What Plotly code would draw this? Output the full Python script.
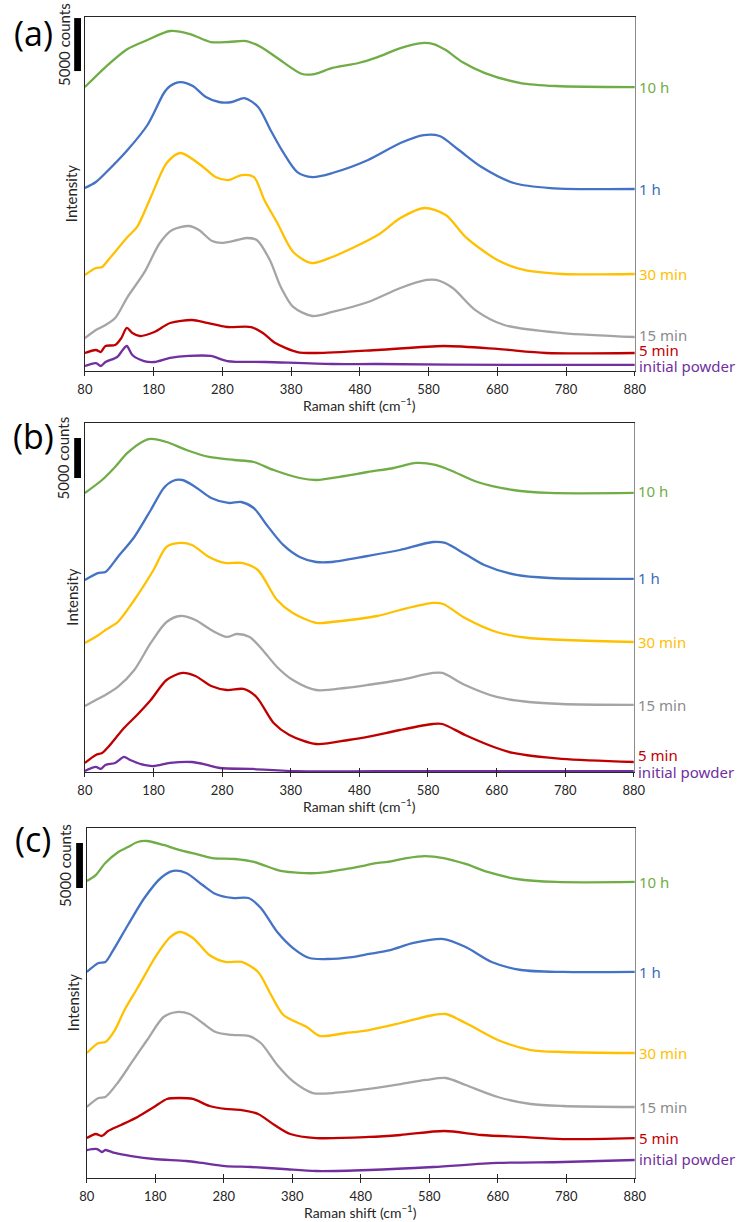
import plotly.graph_objects as go

# ---------------- Panel (a) data (Raman shift in cm-1, stacked intensity in counts) ----------------
A_10H_X = [80, 110, 142, 171, 204, 233, 263, 289, 315, 336, 360, 396, 414, 440, 478, 506, 539, 570, 587, 605, 629, 662, 714, 765, 880]
A_10H_Y = [26790, 28680, 30380, 31230, 32080, 31790, 31040, 31040, 31130, 30570, 29530, 28020, 28020, 28590, 29060, 29620, 30470, 30940, 30850, 30280, 29150, 28110, 27170, 26890, 26790]

A_1H_X = [80, 96, 110, 142, 171, 195, 204, 219, 237, 256, 275, 294, 312, 332, 350, 369, 389, 411, 440, 492, 539, 573, 596, 624, 657, 704, 757, 880]
A_1H_Y = [17260, 17830, 18680, 20850, 23210, 26230, 26890, 27260, 26890, 25850, 25380, 25380, 25750, 24910, 22740, 20570, 18770, 18300, 18680, 19910, 21510, 22260, 22170, 20850, 19250, 17740, 17260, 17170]

A_30M_X = [80, 96, 105, 114, 142, 156, 176, 199, 219, 252, 270, 289, 308, 326, 341, 360, 383, 410, 440, 506, 539, 574, 605, 634, 680, 719, 775, 880]
A_30M_Y = [9060, 9720, 9810, 10470, 12640, 13590, 16420, 19620, 20570, 19250, 18300, 18020, 18490, 18300, 16130, 13960, 11230, 10190, 10760, 12830, 14430, 15380, 14720, 12640, 10470, 9530, 9150, 9150]

A_15M_X = [80, 96, 110, 124, 142, 166, 189, 207, 231, 246, 265, 279, 302, 316, 330, 349, 365, 383, 411, 440, 492, 539, 577, 591, 615, 648, 690, 775, 880]
A_15M_Y = [3110, 3870, 4340, 5000, 6980, 9250, 12080, 13300, 13680, 13300, 12260, 12080, 12360, 12550, 12360, 10470, 7920, 6040, 5190, 5570, 6510, 7830, 8590, 8590, 7830, 5750, 4340, 3580, 3210]

A_5M_X = [80, 96, 103, 110, 124, 133, 141, 149, 160, 181, 204, 236, 258, 287, 322, 339, 357, 389, 417, 506, 602, 680, 751, 880]
A_5M_Y = [1700, 1980, 1790, 2360, 2450, 3110, 4060, 3580, 3300, 3680, 4530, 4810, 4530, 4150, 4150, 3580, 2640, 1790, 1700, 1980, 2360, 2080, 1700, 1700]

A_INIT_X = [80, 96, 103, 110, 127, 135, 141, 149, 166, 181, 204, 231, 263, 287, 343, 440, 506, 700, 880]
A_INIT_Y = [470, 750, 470, 850, 1320, 1980, 2360, 1510, 940, 850, 1230, 1420, 1420, 940, 850, 660, 660, 570, 570]

# ---------------- Panel (b) data ----------------
B_10H_X = [80, 105, 124, 142, 166, 176, 199, 228, 261, 298, 326, 355, 393, 417, 459, 492, 530, 563, 591, 615, 652, 704, 757, 880]
B_10H_Y = [34880, 36500, 38130, 39880, 41380, 41630, 41250, 40250, 39380, 39000, 38750, 37750, 36750, 36500, 37000, 37500, 38000, 38630, 38380, 37630, 36250, 35250, 34880, 34880]

B_1H_X = [80, 100, 110, 128, 152, 176, 195, 208, 222, 241, 264, 289, 308, 326, 345, 369, 393, 417, 440, 492, 539, 587, 605, 634, 662, 709, 757, 880]
B_1H_Y = [24000, 24880, 25000, 26880, 29380, 32750, 35500, 36380, 36500, 35630, 34250, 33630, 33750, 33000, 30880, 28380, 26880, 26250, 26250, 27000, 27750, 28750, 28630, 27250, 25880, 24630, 24250, 24130]

B_30M_X = [80, 100, 110, 128, 152, 180, 199, 219, 236, 261, 284, 308, 332, 360, 383, 417, 440, 506, 539, 587, 602, 634, 680, 727, 880]
B_30M_Y = [16130, 17130, 17750, 18750, 21500, 25250, 28130, 28630, 28380, 26880, 26130, 26130, 25250, 21500, 19880, 18630, 18750, 19500, 20250, 21130, 21000, 19250, 17500, 16750, 16250]

B_15M_X = [80, 96, 110, 128, 152, 176, 199, 219, 241, 264, 287, 301, 320, 339, 360, 383, 417, 459, 492, 539, 587, 601, 634, 680, 727, 775, 880]
B_15M_Y = [8250, 9000, 9630, 10630, 12750, 16130, 18750, 19500, 19000, 17750, 16880, 17250, 16880, 15250, 13130, 11500, 10250, 10500, 10880, 11500, 12380, 12380, 10880, 9380, 8750, 8500, 8380]

B_5M_X = [80, 96, 105, 114, 137, 156, 176, 199, 222, 241, 264, 287, 311, 330, 355, 378, 417, 464, 492, 539, 587, 601, 634, 680, 704, 775, 880]
B_5M_Y = [1130, 2130, 2380, 3130, 5500, 7130, 9000, 11500, 12380, 12000, 10750, 10250, 10380, 9380, 6130, 4630, 3500, 4000, 4380, 5250, 6000, 6000, 4630, 3000, 2380, 1630, 1250]

B_INIT_X = [80, 96, 103, 110, 124, 137, 146, 166, 181, 204, 236, 258, 277, 324, 389, 506, 880]
B_INIT_Y = [130, 630, 380, 880, 1130, 1880, 1500, 880, 750, 1130, 1250, 880, 500, 380, 100, 100, 100]

# ---------------- Panel (c) data ----------------
C_10H_X = [80, 93, 107, 126, 140, 154, 168, 192, 211, 239, 263, 296, 324, 363, 391, 420, 467, 505, 519, 547, 573, 601, 633, 665, 708, 765, 880]
C_10H_Y = [33000, 33660, 35000, 36220, 36770, 37330, 37440, 37000, 36550, 36000, 35550, 35440, 35110, 34110, 33890, 33890, 34440, 35000, 35110, 35550, 35770, 35550, 34890, 34000, 33220, 32890, 32890]

C_1H_X = [80, 97, 107, 117, 140, 164, 188, 206, 225, 249, 268, 292, 316, 334, 358, 381, 405, 430, 467, 492, 523, 557, 601, 633, 671, 714, 775, 880]
C_1H_Y = [22890, 23890, 24000, 25110, 28110, 31110, 33330, 34110, 33890, 32550, 31550, 31110, 31110, 30000, 27330, 25550, 24440, 24330, 24550, 24890, 25330, 26110, 26550, 25660, 24000, 23110, 22890, 22890]

C_30M_X = [80, 97, 107, 121, 135, 154, 182, 202, 216, 235, 259, 282, 306, 330, 349, 367, 401, 420, 458, 492, 538, 586, 604, 633, 680, 728, 775, 880]
C_30M_Y = [13890, 15000, 15110, 16440, 18670, 21110, 24780, 26780, 27330, 26660, 24780, 24000, 24000, 22890, 20330, 18110, 16780, 15780, 16110, 16440, 17220, 18110, 18220, 17220, 15330, 14220, 14000, 13890]

C_15M_X = [80, 97, 107, 126, 145, 168, 192, 211, 230, 249, 268, 292, 316, 334, 358, 382, 410, 439, 492, 538, 575, 604, 633, 680, 728, 775, 880]
C_15M_Y = [7890, 8890, 9000, 10670, 12780, 15330, 17890, 18440, 18220, 17220, 16220, 15890, 15780, 15000, 12550, 10670, 9440, 9440, 9890, 10440, 10890, 11110, 10330, 9000, 8220, 8000, 7890]

C_5M_X = [80, 93, 102, 111, 130, 154, 178, 197, 216, 235, 259, 282, 306, 330, 354, 377, 415, 492, 538, 602, 656, 714, 775, 880]
C_5M_Y = [4440, 4890, 4670, 5220, 5890, 6780, 7890, 8780, 8890, 8780, 8000, 7670, 7550, 7110, 5890, 4890, 4440, 4560, 4780, 5220, 4780, 4560, 4330, 4440]

C_INIT_X = [80, 95, 102, 107, 121, 145, 178, 225, 249, 282, 320, 367, 415, 492, 586, 680, 775, 880]
C_INIT_Y = [3110, 3220, 2890, 3110, 2780, 2440, 2110, 1890, 1670, 1330, 1220, 1000, 780, 890, 1220, 1670, 1780, 2000]

SERIES_NAMES = ["10 h", "1 h", "30 min", "15 min", "5 min", "initial powder"]
LINE_COLORS = ["#70AD47", "#4472C4", "#FFC000", "#A5A5A5", "#C00000", "#7030A0"]
LABEL_COLORS = ["#70AD47", "#3B6DB8", "#FFC000", "#8C8C8C", "#C00000", "#7030A0"]
PANEL_LETTERS = ["(a)", "(b)", "(c)"]
X_TICKS = [80, 180, 280, 380, 480, 580, 680, 780, 880]
SCALE_BAR_COUNTS = 5000

PANELS = [
    [(A_10H_X, A_10H_Y), (A_1H_X, A_1H_Y), (A_30M_X, A_30M_Y), (A_15M_X, A_15M_Y), (A_5M_X, A_5M_Y), (A_INIT_X, A_INIT_Y)],
    [(B_10H_X, B_10H_Y), (B_1H_X, B_1H_Y), (B_30M_X, B_30M_Y), (B_15M_X, B_15M_Y), (B_5M_X, B_5M_Y), (B_INIT_X, B_INIT_Y)],
    [(C_10H_X, C_10H_Y), (C_1H_X, C_1H_Y), (C_30M_X, C_30M_Y), (C_15M_X, C_15M_Y), (C_5M_X, C_5M_Y), (C_INIT_X, C_INIT_Y)],
]

# ---------------- layout geometry (paper fractions) ----------------
W, H = 750, 1222
X_DOMAINS = [[79 / W, 644 / W], [79 / W, 643 / W], [81 / W, 644 / W]]
Y_DOMAINS = [[1 - 371 / H, 1 - 17 / H], [1 - 772 / H, 1 - 423 / H], [1 - 1178 / H, 1 - 828 / H]]
Y_RANGES = [[0, 33400], [0, 43625], [0, 38885]]
BAR_TOPS = [33300, 41750, 37220]
LABEL_YSHIFT = [[0, 0, 0, 2, 3, -1], [2, 1, 0, 0, 7, -1], [0, 0, 0, 0, 0, 1]]
LETTER_Y_PX = [33, 436, 839]

AXIS_FAMILY = "Lato, 'Open Sans', sans-serif"
AXIS_FONT = dict(family=AXIS_FAMILY, size=13, color="#262626")
LABEL_FONT_FAMILY = "'Noto Sans', 'Open Sans', sans-serif"

fig = go.Figure()
annotations = []
shapes = []

for p, series in enumerate(PANELS):
    n = p + 1
    xa = "x" if n == 1 else f"x{n}"
    ya = "y" if n == 1 else f"y{n}"
    xkey = "xaxis" if n == 1 else f"xaxis{n}"
    ykey = "yaxis" if n == 1 else f"yaxis{n}"

    for s, (xs, ys) in enumerate(series):
        fig.add_trace(go.Scatter(
            x=xs, y=ys, mode="lines", name=SERIES_NAMES[s], showlegend=False,
            line=dict(color=LINE_COLORS[s], width=2.3, shape="spline", smoothing=0.8),
            xaxis=xa, yaxis=ya, hoverinfo="skip",
        ))
        annotations.append(dict(
            text=SERIES_NAMES[s], xref=f"{xa} domain", yref=ya, x=1.0, y=ys[-1],
            xanchor="left", yanchor="middle", xshift=2, yshift=LABEL_YSHIFT[p][s], showarrow=False,
            font=dict(family=LABEL_FONT_FAMILY, size=15, color=LABEL_COLORS[s]),
        ))

    fig.update_layout({
        xkey: dict(
            domain=X_DOMAINS[p], anchor=ya, range=[80, 880], tickvals=X_TICKS,
            ticks="outside", ticklen=4, tickwidth=1.3, tickcolor="#262626",
            showline=True, linecolor="#262626", linewidth=1.3, mirror=True,
            showgrid=False, zeroline=False, tickfont=AXIS_FONT, layer="below traces",
            ticklabelstandoff=2,
        ),
        ykey: dict(
            domain=Y_DOMAINS[p], anchor=xa, range=Y_RANGES[p],
            showline=True, linecolor="#262626", linewidth=1.3, mirror=False,
            showgrid=False, zeroline=False, showticklabels=False, ticks="",
            layer="below traces",
        ),
    })

    # overlay axes: inside half of the crossing tick marks, and grey right frame line
    ox = 4 + n
    fig.update_layout({
        f"xaxis{ox}": dict(
            overlaying=xa, anchor=ya, domain=X_DOMAINS[p], range=[80, 880], tickvals=X_TICKS,
            ticks="inside", ticklen=4, tickwidth=1.3, tickcolor="#262626",
            showticklabels=False, showline=False, showgrid=False, zeroline=False,
        ),
        f"yaxis{ox}": dict(
            overlaying=ya, anchor=xa, side="right", domain=Y_DOMAINS[p], range=Y_RANGES[p],
            showline=True, linecolor="#8C8C8C", linewidth=1.3,
            showticklabels=False, ticks="", showgrid=False, zeroline=False,
        ),
    })
    fig.add_trace(go.Scatter(x=[80], y=[0], mode="markers", marker=dict(opacity=0),
                             xaxis=f"x{ox}", yaxis=f"y{ox}", showlegend=False, hoverinfo="skip"))

    # scale bar (5000 counts)
    shapes.append(dict(
        type="rect", xref=f"{xa} domain", yref=ya,
        x0=-0.0195, x1=-0.0071, y0=BAR_TOPS[p] - SCALE_BAR_COUNTS, y1=BAR_TOPS[p],
        fillcolor="black", line=dict(width=0),
    ))
    annotations.append(dict(
        text=f"{SCALE_BAR_COUNTS} counts", xref=f"{xa} domain", yref=ya,
        x=-0.0336, y=BAR_TOPS[p] - SCALE_BAR_COUNTS / 2, textangle=-90, xshift=-3,
        xanchor="center", yanchor="middle", showarrow=False,
        font=dict(family=AXIS_FAMILY, size=15, color="#262626"),
    ))
    # y-axis title
    annotations.append(dict(
        text="Intensity", xref=f"{xa} domain", yref=f"{ya} domain",
        x=-0.0195, y=0.5, textangle=-90, xshift=-3, xanchor="center", yanchor="middle",
        showarrow=False, font=dict(family=AXIS_FAMILY, size=15, color="#262626"),
    ))
    # x-axis title
    annotations.append(dict(
        text="Raman shift (cm<sup>−1</sup>)", xref=f"{xa} domain", yref=f"{ya} domain",
        x=0.5, y=0, yshift=-33, xanchor="center", yanchor="middle", showarrow=False,
        font=dict(family=AXIS_FAMILY, size=14, color="#262626"),
    ))
    # panel letter
    annotations.append(dict(
        text=PANEL_LETTERS[p], xref="paper", yref="paper",
        x=26 / W, y=1 - LETTER_Y_PX[p] / H, xanchor="center", yanchor="middle",
        showarrow=False, font=dict(family="'Open Sans', sans-serif", size=34, color="black"),
    ))

fig.update_layout(
    width=W, height=H, margin=dict(l=0, r=0, t=0, b=0),
    paper_bgcolor="white", plot_bgcolor="white",
    annotations=annotations, shapes=shapes, showlegend=False,
)

fig.write_html("out.html")
